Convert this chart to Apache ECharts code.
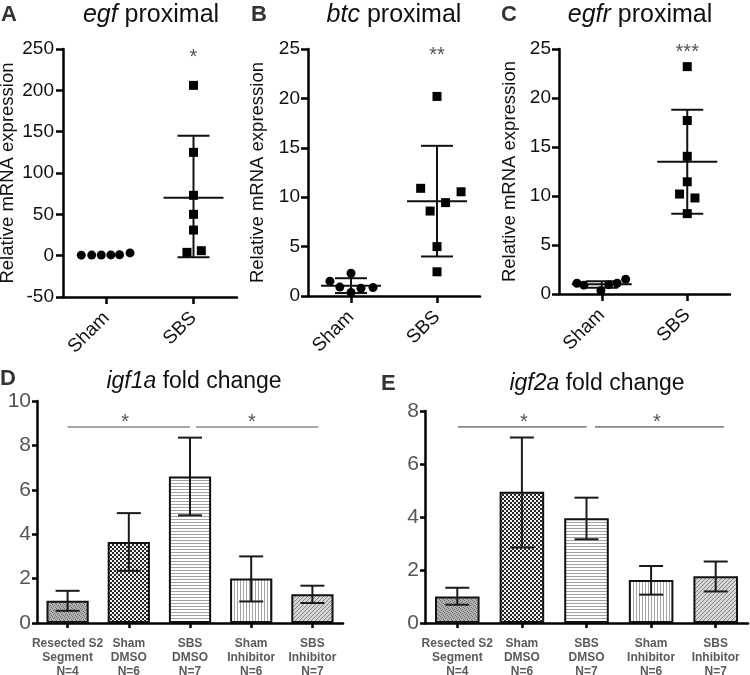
<!DOCTYPE html>
<html><head><meta charset="utf-8">
<script src="https://cdn.jsdelivr.net/npm/echarts@6/dist/echarts.min.js"></script>
<style>html,body{margin:0;padding:0;background:#fff}#c{width:750px;height:675px}</style>
</head><body><div id="c"></div>
<script>
// ---------------- data ----------------
const scatterCats = ['Sham', 'SBS'];

// Panel A: egf proximal
const yTicksA = [-50, 0, 50, 100, 150, 200, 250];
const aSham = [0.6, 0.7, 0.8, 0.9, 1.1, 3.3];
const aShamJit = [-0.29, -0.17, -0.06, 0.05, 0.15, 0.27];
const aSbs = [206, 125, 73, 50, 31, 4, 6];
const aSbsJit = [0, 0, 0, 0, 0, -0.075, 0.09];
const aStats = [[1, 70, -2, 145]];           // [group, mean, lower, upper]
const aStar = [[1, 240]]; const aStarText = ['*'];

// Panel B: btc proximal
const yTicksB = [0, 5, 10, 15, 20, 25];
const bSham = [1.5, 2.3, 0.9, 0.35, 0.78, 0.85];
const bShamJit = [-0.245, 0, -0.13, 0, 0.116, 0.256];
const bSbs = [20.2, 10.9, 10.55, 9.45, 8.6, 5.0, 2.45];
const bSbsJit = [0, -0.19, 0.28, 0.1, -0.08, 0, 0];
const bStats = [[0, 1.05, 0.3, 1.8], [1, 9.6, 4.0, 15.2]];
const bStar = [[1, 24.3]]; const bStarText = ['**'];

// Panel C: egfr proximal
const yTicksC = [0, 5, 10, 15, 20, 25];
const cSham = [1.1, 0.9, 0.35, 0.95, 1.1, 1.5];
const cShamJit = [-0.29, -0.21, -0.01, 0.08, 0.18, 0.28];
const cSbs = [23.2, 17.7, 14.05, 11.45, 10.2, 9.8, 8.2];
const cSbsJit = [0, 0, 0, 0, -0.09, 0.09, 0];
const cStats = [[0, 1.0, 0.65, 1.3], [1, 13.5, 8.2, 18.8]];
const cStar = [[1, 24.6]]; const cStarText = ['***'];

// Panels D / E: bars
const barCats = ['Resected S2\nSegment\nN=4', 'Sham\nDMSO\nN=6', 'SBS\nDMSO\nN=7', 'Sham\nInhibitor\nN=6', 'SBS\nInhibitor\nN=7'];
const yTicksD = [0, 2, 4, 6, 8, 10];
const dMeans = [1.0, 3.65, 6.6, 2.0, 1.3];
const dLower = [0.55, 2.35, 4.85, 0.97, 0.9];
const dUpper = [1.45, 4.95, 8.35, 3.0, 1.68];
const dSig = [[0, 2, 8.83, 0.94, 9.05], [2.1, 4.1, 8.83, 3.01, 9.05]]; // x1,x2,y,starX,starY

const yTicksE = [0, 2, 4, 6, 8];
const eMeans = [1.0, 4.95, 3.95, 1.62, 1.76];
const eLower = [0.69, 2.85, 3.16, 1.07, 1.19];
const eUpper = [1.33, 7.0, 4.73, 2.15, 2.32];
const eSig = [[0.01, 2.0, 7.4, 1.03, 7.57], [2.13, 4.13, 7.4, 3.09, 7.57]];

// ---------------- helpers ----------------
const FONT = '"Liberation Sans", Arial, Helvetica, sans-serif';

function makePattern(kind) {
  const c = document.createElement('canvas');
  const g = c.getContext('2d');
  if (kind === 'stipple') {
    c.width = 4; c.height = 4;
    g.fillStyle = '#b2b2b2'; g.fillRect(0, 0, 4, 4);
    g.fillStyle = '#6a6a6a';
    [[0, 0], [2, 1], [1, 2], [3, 3]].forEach(p => g.fillRect(p[0], p[1], 1, 1));
  } else if (kind === 'dots') {
    c.width = 4; c.height = 4;
    g.fillStyle = '#f2f2f2'; g.fillRect(0, 0, 4, 4);
    g.fillStyle = '#262626'; g.fillRect(0, 0, 2, 2); g.fillRect(2, 2, 2, 2);
  } else if (kind === 'hlines') {
    c.width = 4; c.height = 3;
    g.fillStyle = '#ffffff'; g.fillRect(0, 0, 4, 3);
    g.fillStyle = '#a4a4a4'; g.fillRect(0, 0, 4, 1);
  } else if (kind === 'vlines') {
    c.width = 3; c.height = 4;
    g.fillStyle = '#ffffff'; g.fillRect(0, 0, 3, 4);
    g.fillStyle = '#a4a4a4'; g.fillRect(0, 0, 1, 4);
  } else if (kind === 'diag') {
    c.width = 4; c.height = 4;
    g.fillStyle = '#d6d6d6'; g.fillRect(0, 0, 4, 4);
    g.fillStyle = '#858585';
    [[3, 0], [2, 1], [1, 2], [0, 3]].forEach(p => g.fillRect(p[0], p[1], 1, 1));
  }
  return { image: c, repeat: 'repeat' };
}
const barPatterns = ['stipple', 'dots', 'hlines', 'vlines', 'diag'].map(makePattern);

function seg(x1, y1, x2, y2, color, w) {
  return { type: 'line', shape: { x1, y1, x2, y2 }, style: { stroke: color, lineWidth: w, fill: null } };
}

function statsRender(meanW, capW) {
  return function (params, api) {
    const x = api.value(0), m = api.value(1), lo = api.value(2), hi = api.value(3);
    const pm = api.coord([x, m]), pl = api.coord([x, lo]), ph = api.coord([x, hi]);
    return { type: 'group', children: [
      seg(pl[0], pl[1], ph[0], ph[1], '#111', 2),
      seg(pm[0] - meanW / 2, pm[1], pm[0] + meanW / 2, pm[1], '#111', 2),
      seg(pl[0] - capW / 2, pl[1], pl[0] + capW / 2, pl[1], '#111', 2),
      seg(ph[0] - capW / 2, ph[1], ph[0] + capW / 2, ph[1], '#111', 2)
    ] };
  };
}

function errRender(capW) {
  return function (params, api) {
    const x = api.value(0), lo = api.value(1), hi = api.value(2);
    const pl = api.coord([x, lo]), ph = api.coord([x, hi]);
    return { type: 'group', children: [
      seg(pl[0], pl[1], ph[0], ph[1], '#1a1a1a', 2),
      seg(pl[0] - capW / 2, pl[1], pl[0] + capW / 2, pl[1], '#1a1a1a', 2),
      seg(ph[0] - capW / 2, ph[1], ph[0] + capW / 2, ph[1], '#1a1a1a', 2)
    ] };
  };
}

function starRender(texts) {
  return function (params, api) {
    const p = api.coord([api.value(0), api.value(1)]);
    return { type: 'text', x: p[0], y: p[1], style: {
      text: texts[params.dataIndex], fill: '#555', fontSize: 20, fontFamily: FONT,
      align: 'center', verticalAlign: 'middle' } };
  };
}

function sigRender(params, api) {
  const a = api.coord([api.value(0), api.value(2)]);
  const b = api.coord([api.value(1), api.value(2)]);
  const s = api.coord([api.value(3), api.value(4)]);
  return { type: 'group', children: [
    seg(a[0], a[1], b[0], b[1], '#8a8a8a', 1.6),
    { type: 'text', x: s[0], y: s[1], style: { text: '*', fill: '#555', fontSize: 20, fontFamily: FONT, align: 'center', verticalAlign: 'middle' } }
  ] };
}

// ---------------- axes ----------------
const grids = [
  { left: 63, top: 49, width: 174, height: 248, outerBoundsMode: 'none', containLabel: false },
  { left: 308, top: 49, width: 172, height: 247, outerBoundsMode: 'none', containLabel: false },
  { left: 559, top: 49, width: 171, height: 245, outerBoundsMode: 'none', containLabel: false },
  { left: 37, top: 401, width: 306, height: 222, outerBoundsMode: 'none', containLabel: false },
  { left: 425, top: 411, width: 323, height: 212, outerBoundsMode: 'none', containLabel: false }
];

const blackLine = { show: true, onZero: false, lineStyle: { color: '#000', width: 2.5 } };

function scatterCatAxis(gi) {
  return { gridIndex: gi, type: 'category', data: scatterCats, axisLine: blackLine,
    axisTick: { show: true, alignWithLabel: true, length: 7, lineStyle: { color: '#000', width: 2.5 } },
    axisLabel: { rotate: 45, interval: 0, fontSize: 19, color: '#111', margin: 18, fontFamily: FONT },
    splitLine: { show: false } };
}
function hiddenVal(gi, min, max) {
  return { gridIndex: gi, type: 'value', min, max, show: false, splitLine: { show: false } };
}
function barCatAxis(gi) {
  return { gridIndex: gi, type: 'category', data: barCats, axisLine: blackLine,
    axisTick: { show: true, alignWithLabel: true, length: 5, lineStyle: { color: '#000', width: 2.5 } },
    axisLabel: { interval: 0, fontSize: 12, fontWeight: 'bold', color: '#5a5a5a', lineHeight: 14, margin: 14, fontFamily: FONT },
    splitLine: { show: false } };
}
function scatterYAxis(gi, ticks, gap, margin) {
  return { gridIndex: gi, type: 'value', min: ticks[0], max: ticks[ticks.length - 1], interval: ticks[1] - ticks[0],
    axisLine: blackLine,
    axisTick: { show: true, length: 7, lineStyle: { color: '#000', width: 2.5 } },
    axisLabel: { fontSize: 19, color: '#111', margin: margin, fontFamily: FONT },
    splitLine: { show: false },
    name: 'Relative mRNA expression', nameLocation: 'middle', nameGap: gap,
    nameTextStyle: { fontSize: 18.5, color: '#111', fontFamily: FONT } };
}
function barYAxis(gi, ticks) {
  return { gridIndex: gi, type: 'value', min: ticks[0], max: ticks[ticks.length - 1], interval: ticks[1] - ticks[0],
    axisLine: blackLine,
    axisTick: { show: true, length: 5, lineStyle: { color: '#000', width: 2.5 } },
    axisLabel: { fontSize: 21, color: '#555', margin: 6, fontFamily: FONT },
    splitLine: { show: false } };
}

const xAxes = [
  scatterCatAxis(0), hiddenVal(0, -0.5, 1.5),
  scatterCatAxis(1), hiddenVal(1, -0.5, 1.5),
  scatterCatAxis(2), hiddenVal(2, -0.5, 1.5),
  barCatAxis(3), hiddenVal(3, -0.5, 4.5),
  barCatAxis(4), hiddenVal(4, -0.5, 4.5)
];
const yAxes = [
  scatterYAxis(0, yTicksA, 46, 9),
  scatterYAxis(1, yTicksB, 41, 8),
  scatterYAxis(2, yTicksC, 40, 8),
  barYAxis(3, yTicksD),
  barYAxis(4, yTicksE)
];

// ---------------- series ----------------
const series = [];
function scatterPanel(gi, sham, shamJit, sbs, sbsJit, stats, star, starText) {
  const xi = gi * 2 + 1;
  series.push({ type: 'custom', xAxisIndex: xi, yAxisIndex: gi, renderItem: statsRender(60, 32),
    data: stats, encode: { x: 0, y: [1, 2, 3] }, z: 3 });
  series.push({ type: 'scatter', xAxisIndex: xi, yAxisIndex: gi, symbol: 'circle', symbolSize: 9,
    itemStyle: { color: '#000', opacity: 1 }, data: sham.map((v, i) => [0 + shamJit[i], v]), z: 4 });
  series.push({ type: 'scatter', xAxisIndex: xi, yAxisIndex: gi, symbol: 'rect', symbolSize: 9,
    itemStyle: { color: '#000', opacity: 1 }, data: sbs.map((v, i) => [1 + sbsJit[i], v]), z: 4 });
  series.push({ type: 'custom', xAxisIndex: xi, yAxisIndex: gi, renderItem: starRender(starText),
    data: star, z: 5 });
}
scatterPanel(0, aSham, aShamJit, aSbs, aSbsJit, aStats, aStar, aStarText);
scatterPanel(1, bSham, bShamJit, bSbs, bSbsJit, bStats, bStar, bStarText);
scatterPanel(2, cSham, cShamJit, cSbs, cSbsJit, cStats, cStar, cStarText);

function barPanel(gi, means, lower, upper, sig) {
  series.push({ type: 'bar', xAxisIndex: gi * 2, yAxisIndex: gi, barWidth: '69%',
    itemStyle: { borderColor: '#111', borderWidth: 2 },
    data: means.map((v, i) => ({ value: v, itemStyle: { color: barPatterns[i] } })), z: 2 });
  series.push({ type: 'custom', xAxisIndex: gi * 2 + 1, yAxisIndex: gi, renderItem: errRender(24),
    data: means.map((v, i) => [i, lower[i], upper[i]]), encode: { x: 0, y: [1, 2] }, z: 4 });
  series.push({ type: 'custom', xAxisIndex: gi * 2 + 1, yAxisIndex: gi, renderItem: sigRender,
    data: sig, encode: { x: [0, 1], y: 2 }, z: 4 });
}
barPanel(3, dMeans, dLower, dUpper, dSig);
barPanel(4, eMeans, eLower, eUpper, eSig);

// ---------------- titles / letters ----------------
function titleText(x, y, italic, rest, size) {
  return { type: 'text', x, y, style: {
    text: '{i|' + italic + '}' + rest, fill: '#111', fontSize: size, fontFamily: FONT,
    align: 'center', verticalAlign: 'middle',
    rich: { i: { fontStyle: 'italic', fontSize: size, fontFamily: FONT, fill: '#111' } } } };
}
function letter(x, y, t) {
  return { type: 'text', x, y, style: { text: t, fill: '#333', fontSize: 22, fontWeight: 'bold', fontFamily: FONT,
    align: 'left', verticalAlign: 'middle' } };
}
const graphics = [
  letter(1, 15, 'A'), titleText(151, 15, 'egf', ' proximal', 25),
  letter(251, 15, 'B'), titleText(394, 15, 'btc', ' proximal', 25),
  letter(501, 15, 'C'), titleText(640, 15, 'egfr', ' proximal', 25),
  letter(0, 379, 'D'), titleText(194, 382, 'igf1a', ' fold change', 23),
  letter(381, 384, 'E'), titleText(597, 384, 'igf2a', ' fold change', 23)
];

const chart = echarts.init(document.getElementById('c'), null, { renderer: 'canvas', width: 750, height: 675 });
chart.setOption({
  animation: false,
  backgroundColor: '#fff',
  textStyle: { fontFamily: FONT },
  grid: grids,
  xAxis: xAxes,
  yAxis: yAxes,
  series: series,
  graphic: graphics
});
</script>
</body></html>
